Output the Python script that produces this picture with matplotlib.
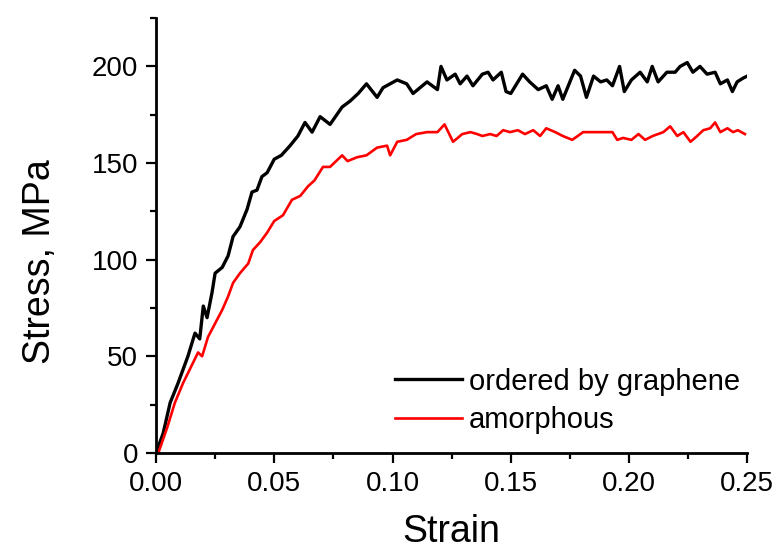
import numpy as np
import matplotlib
matplotlib.use("Agg")
import matplotlib.pyplot as plt
from matplotlib.ticker import MultipleLocator

# stress-strain curves
strain_graphene = [0.0, 0.003, 0.006, 0.0093, 0.0114, 0.0135, 0.0165, 0.0185, 0.020, 0.0216,
                   0.0237, 0.025, 0.028, 0.0305, 0.0326, 0.0355, 0.0385, 0.0406, 0.0427, 0.0448,
                   0.047, 0.050, 0.053, 0.0567, 0.060, 0.063, 0.066, 0.0694, 0.0736, 0.0787,
                   0.082, 0.0855, 0.089, 0.0935, 0.096, 0.102, 0.106, 0.1087, 0.1146, 0.119,
                   0.1205, 0.123, 0.1265, 0.1286, 0.1315, 0.134, 0.138, 0.1404, 0.1425, 0.146,
                   0.148, 0.150, 0.155, 0.158, 0.1616, 0.165, 0.1675, 0.170, 0.172, 0.175,
                   0.177, 0.1795, 0.182, 0.185, 0.188, 0.1906, 0.193, 0.196, 0.198, 0.201,
                   0.2047, 0.2077, 0.2098, 0.2123, 0.216, 0.2195, 0.2216, 0.2246, 0.227, 0.230,
                   0.233, 0.2364, 0.2386, 0.2416, 0.2437, 0.2457, 0.2483, 0.25]
stress_graphene = [0, 10, 26, 36, 43, 50, 62, 59, 76, 70,
                   83, 93, 96, 102, 112, 117, 126, 135, 136, 143,
                   145, 152, 154, 159, 164, 171, 166, 174, 170, 179,
                   182, 186, 191, 184, 189, 193, 191, 186, 192, 188,
                   200, 193, 196, 191, 195, 190, 196, 197, 193, 197,
                   187, 186, 196, 192, 188, 190, 183, 190, 183, 192,
                   198, 195, 184, 195, 192, 193, 190, 200, 187, 193,
                   197, 192, 200, 192, 197, 197, 200, 202, 197, 200,
                   196, 197, 191, 193, 187, 192, 194, 195]

strain_amorphous = [0.001, 0.0047, 0.008, 0.0114, 0.015, 0.0178, 0.0195, 0.022, 0.025, 0.028,
                    0.0305, 0.0326, 0.0355, 0.039, 0.041, 0.044, 0.047, 0.050, 0.0537, 0.0575,
                    0.061, 0.0643, 0.067, 0.0706, 0.0736, 0.077, 0.0787, 0.081, 0.085, 0.089,
                    0.0935, 0.0977, 0.099, 0.102, 0.106, 0.110, 0.1146, 0.119, 0.122, 0.1256,
                    0.1295, 0.133, 0.1358, 0.138, 0.1413, 0.144, 0.1468, 0.1497, 0.153, 0.156,
                    0.1595, 0.1624, 0.165, 0.1688, 0.172, 0.176, 0.1806, 0.185, 0.189, 0.193,
                    0.195, 0.1975, 0.201, 0.204, 0.2068, 0.210, 0.2145, 0.2174, 0.2204, 0.223,
                    0.226, 0.2288, 0.2314, 0.2343, 0.2364, 0.2386, 0.2416, 0.244, 0.246, 0.249]
stress_amorphous = [0, 13, 26, 36, 45, 52, 50, 60, 67, 74,
                    81, 88, 93, 98, 105, 109, 114, 120, 123, 131,
                    133, 138, 141, 148, 148, 152, 154, 151, 153, 154,
                    158, 159, 154, 161, 162, 165, 166, 166, 170, 161,
                    165, 166, 165, 164, 165, 164, 167, 166, 167, 165,
                    167, 164, 168, 166, 164, 162, 166, 166, 166, 166,
                    162, 163, 162, 165, 162, 164, 166, 169, 164, 166,
                    161, 164, 167, 168, 171, 166, 168, 166, 167, 165]

plt.rcParams["font.family"] = ["Liberation Sans", "DejaVu Sans"]

fig = plt.figure(figsize=(7.76, 5.49), dpi=100)
ax = fig.add_axes([0.201, 0.175, 0.762, 0.792])

ax.plot(strain_graphene, stress_graphene, color="black", lw=2.4, label="ordered by graphene")
ax.plot(strain_amorphous, stress_amorphous, color="red", lw=1.9, label="amorphous")

ax.set_xlim(0, 0.25)
ax.set_ylim(0, 225)
ax.xaxis.set_major_locator(MultipleLocator(0.05))
ax.xaxis.set_minor_locator(MultipleLocator(0.025))
ax.yaxis.set_major_locator(MultipleLocator(50))
ax.yaxis.set_minor_locator(MultipleLocator(25))
ax.set_xticks(np.arange(0, 0.26, 0.05))
ax.set_xticklabels(["0.00", "0.05", "0.10", "0.15", "0.20", "0.25"])

for side in ["top", "right"]:
    ax.spines[side].set_visible(False)
for side in ["left", "bottom"]:
    ax.spines[side].set_linewidth(2)

ax.tick_params(which="major", direction="out", length=7, width=1.6, labelsize=20)
ax.tick_params(which="minor", direction="out", length=4.5, width=1.6)
ax.tick_params(axis="y", which="major", pad=6)
ax.tick_params(axis="x", which="major", pad=6)

ax.set_xlabel("Strain", fontsize=27, labelpad=12)
ax.set_ylabel("Stress, MPa", fontsize=27)
# the y label in the original sits a bit below the middle of the axis
ax.yaxis.set_label_coords(-0.165, 0.44)

ax.legend(loc="upper left", bbox_to_anchor=(0.404, 0.196), borderaxespad=0, borderpad=0,
          frameon=False, fontsize=21, handlelength=2.3, handletextpad=0.25, labelspacing=0.35)

fig.savefig("out.png", dpi=100)
